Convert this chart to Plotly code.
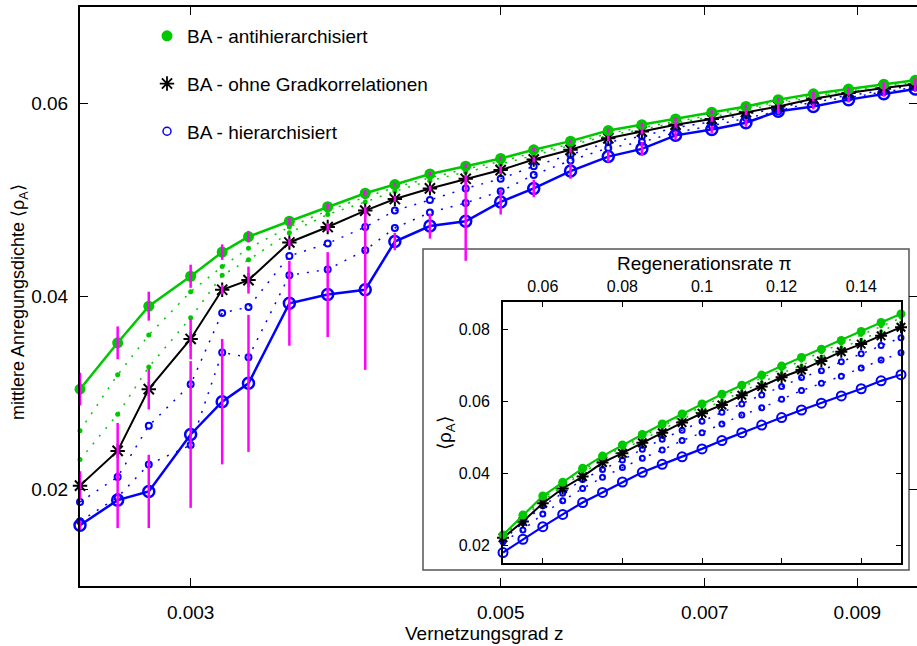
import plotly.graph_objects as go

# ---------------- main plot data ----------------
z = [0.0025, 0.00266, 0.0028, 0.003, 0.00316, 0.0033, 0.00353, 0.00376, 0.0040, 0.0042,
     0.00445, 0.00472, 0.0050, 0.00528, 0.00561, 0.00597, 0.00631, 0.00667, 0.00708, 0.00749,
     0.0079, 0.00837, 0.00887, 0.0094, 0.0099]

anti = [0.0304, 0.0352, 0.0390, 0.0421, 0.0446, 0.0462, 0.0478, 0.0493, 0.0507, 0.0516,
        0.0527, 0.0535, 0.0543, 0.0552, 0.0561, 0.0572, 0.0578, 0.0584, 0.0591, 0.0597,
        0.0604, 0.0610, 0.0615, 0.0620, 0.0624]
anti_err = [0.0017, 0.0017, 0.0015, 0.0012, 0.0008, 0.0006, 0.0004, 0.0003, 0.0003, 0.0002,
            0.0002, 0.0002, 0.0002, 0.0002, 0.0002, 0.0002, 0.0002, 0.0002, 0.0002, 0.0002,
            0.0002, 0.0002, 0.0002, 0.0002, 0.0002]

anti_mid1 = [0.0261, 0.0319, 0.0360, 0.0405, 0.0431, 0.0450, 0.0472, 0.0489, 0.0503, 0.0513,
             0.0523, 0.0532, 0.0540, 0.0549, 0.0558, 0.0569, 0.0575, 0.0581, 0.0588, 0.0595,
             0.0602, 0.0608, 0.0613, 0.0618, 0.0622]
anti_mid2 = [0.0231, 0.0278, 0.0327, 0.0378, 0.0422, 0.0438, 0.0466, 0.0485, 0.0498, 0.0509,
             0.0520, 0.0529, 0.0537, 0.0546, 0.0556, 0.0567, 0.0573, 0.0580, 0.0586, 0.0593,
             0.0600, 0.0607, 0.0612, 0.0617, 0.0621]

neutral = [0.0204, 0.0240, 0.0304, 0.0356, 0.0407, 0.0417, 0.0456, 0.0472, 0.0489, 0.0501,
           0.0512, 0.0522, 0.0531, 0.0542, 0.0552, 0.0564, 0.0571, 0.0578, 0.0584, 0.0591,
           0.0597, 0.0605, 0.0611, 0.0616, 0.0620]
neutral_err = [0.0015, 0.0029, 0.0021, 0.0021, 0.0005, 0.0014, 0.0004, 0.0004, 0.0004, 0.0003,
               0.0003, 0.0004, 0.0004, 0.0003, 0.0003, 0.0003, 0.0003, 0.0003, 0.0003, 0.0003,
               0.0003, 0.0003, 0.0003, 0.0003, 0.0003]

hier_mid1 = [0.0187, 0.0213, 0.0266, 0.0309, 0.0383, 0.0389, 0.0442, 0.0455, 0.0472, 0.0489,
             0.0500, 0.0512, 0.0522, 0.0535, 0.0547, 0.0560, 0.0566, 0.0575, 0.0581, 0.0589,
             0.0595, 0.0604, 0.0608, 0.0614, 0.0619]
hier_mid2 = [0.0167, 0.0192, 0.0226, 0.0246, 0.0342, 0.0337, 0.0422, 0.0428, 0.0448, 0.0471,
             0.0487, 0.0497, 0.0509, 0.0526, 0.0541, 0.0554, 0.0560, 0.0570, 0.0577, 0.0585,
             0.0592, 0.0602, 0.0606, 0.0612, 0.0617]

hier = [0.0163, 0.0189, 0.0198, 0.0257, 0.0291, 0.0310, 0.0393, 0.0402, 0.0407, 0.0457,
        0.0473, 0.0478, 0.0498, 0.0512, 0.0530, 0.0545, 0.0553, 0.0567, 0.0573, 0.0580,
        0.0592, 0.0597, 0.0604, 0.0610, 0.0615]
hier_err = [0.0005, 0.0029, 0.0038, 0.0076, 0.0065, 0.0071, 0.0044, 0.0044, 0.0083, 0.0009,
            0.0013, 0.0041, 0.0013, 0.0009, 0.0008, 0.0006, 0.0007, 0.0005, 0.0004, 0.0004,
            0.0003, 0.0003, 0.0003, 0.0003, 0.0003]

# ---------------- inset data ----------------
pi_rate = [0.05, 0.055, 0.06, 0.065, 0.07, 0.075, 0.08, 0.085, 0.09, 0.095, 0.10,
           0.105, 0.11, 0.115, 0.12, 0.125, 0.13, 0.135, 0.14, 0.145, 0.15]
in_anti = [0.0228, 0.0283, 0.0336, 0.0374, 0.0413, 0.0447, 0.0478, 0.0507, 0.0536, 0.0564, 0.0592,
           0.0619, 0.0644, 0.0672, 0.0697, 0.0721, 0.0744, 0.0768, 0.0793, 0.0818, 0.0842]
in_anti_mid1 = [0.0226, 0.0279, 0.0330, 0.0369, 0.0407, 0.0442, 0.0472, 0.0501, 0.0530, 0.0558, 0.0585,
                0.0611, 0.0637, 0.0664, 0.0688, 0.0712, 0.0735, 0.0759, 0.0783, 0.0807, 0.0831]
in_anti_mid2 = [0.0223, 0.0272, 0.0323, 0.0363, 0.0399, 0.0436, 0.0464, 0.0493, 0.0521, 0.0549, 0.0575,
                0.0600, 0.0626, 0.0652, 0.0677, 0.0699, 0.0723, 0.0748, 0.0770, 0.0794, 0.0818]
in_neutral = [0.0220, 0.0265, 0.0316, 0.0357, 0.0390, 0.0429, 0.0455, 0.0484, 0.0512, 0.0540, 0.0566,
              0.0589, 0.0616, 0.0640, 0.0666, 0.0686, 0.0711, 0.0737, 0.0758, 0.0781, 0.0805]
in_hier_mid1 = [0.0214, 0.0262, 0.0309, 0.0344, 0.0382, 0.0410, 0.0436, 0.0466, 0.0494, 0.0519, 0.0544,
                0.0569, 0.0592, 0.0617, 0.0640, 0.0665, 0.0684, 0.0709, 0.0731, 0.0754, 0.0776]
in_hier_mid2 = [0.0209, 0.0242, 0.0286, 0.0323, 0.0357, 0.0388, 0.0415, 0.0441, 0.0464, 0.0490, 0.0512,
                0.0536, 0.0561, 0.0581, 0.0605, 0.0629, 0.0649, 0.0669, 0.0692, 0.0714, 0.0734]
in_hier = [0.0179, 0.0216, 0.0251, 0.0285, 0.0318, 0.0346, 0.0375, 0.0402, 0.0424, 0.0445, 0.0467,
           0.0490, 0.0512, 0.0533, 0.0554, 0.0575, 0.0594, 0.0614, 0.0634, 0.0656, 0.0673]

main_xticks = [0.003, 0.005, 0.007, 0.009]
main_xticktext = ["0.003", "0.005", "0.007", "0.009"]
main_yticks = [0.02, 0.04, 0.06]
main_yticktext = ["0.02", "0.04", "0.06"]
in_xticks = [0.06, 0.08, 0.10, 0.12, 0.14]
in_xticktext = ["0.06", "0.08", "0.1", "0.12", "0.14"]
in_yticks = [0.02, 0.04, 0.06, 0.08]
in_yticktext = ["0.02", "0.04", "0.06", "0.08"]

GREEN = "#00c800"
BLUE = "#0000ff"
MAG = "#ff00ff"
FONT = "Liberation Sans, Arial, sans-serif"
DOTS = "2px,8px"

fig = go.Figure()


def add(x, y, xa, ya, color, symbol, size, lw, mlw=None, dash="solid"):
    marker = dict(symbol=symbol, size=size, color=color)
    if mlw is not None:
        marker["line"] = dict(width=mlw, color=color)
    fig.add_trace(go.Scatter(x=x, y=y, xaxis=xa, yaxis=ya, mode="lines+markers",
                             line=dict(color=color, width=lw, dash=dash),
                             marker=marker, showlegend=False, cliponaxis=False,
                             hoverinfo="skip"))


# main plot
add(z, anti_mid1, "x", "y", GREEN, "circle", 5, 1.5, dash=DOTS)
add(z, anti_mid2, "x", "y", GREEN, "circle", 5, 1.5, dash=DOTS)
add(z, hier_mid1, "x", "y", BLUE, "circle-open", 6, 1.5, mlw=2, dash=DOTS)
add(z, hier_mid2, "x", "y", BLUE, "circle-open", 6, 1.5, mlw=2, dash=DOTS)
add(z, hier, "x", "y", BLUE, "circle-open", 11, 2.5, mlw=2.5)
add(z, neutral, "x", "y", "black", "asterisk-open", 12, 2, mlw=2)
add(z, anti, "x", "y", GREEN, "circle", 11, 2.5)

for vals, errs in [(anti, anti_err), (neutral, neutral_err), (hier, hier_err)]:
    fig.add_trace(go.Scatter(x=z, y=vals, mode="markers", xaxis="x", yaxis="y",
                             marker=dict(size=1, color="rgba(0,0,0,0)"),
                             error_y=dict(type="data", array=errs, color=MAG,
                                          thickness=2.5, width=0),
                             showlegend=False, cliponaxis=False, hoverinfo="skip"))

# inset
add(pi_rate, in_anti_mid1, "x2", "y2", GREEN, "circle", 4, 1.5, dash=DOTS)
add(pi_rate, in_anti_mid2, "x2", "y2", GREEN, "circle", 4, 1.5, dash=DOTS)
add(pi_rate, in_hier_mid1, "x2", "y2", BLUE, "circle-open", 5, 1.5, mlw=2, dash=DOTS)
add(pi_rate, in_hier_mid2, "x2", "y2", BLUE, "circle-open", 5, 1.5, mlw=2, dash=DOTS)
add(pi_rate, in_hier, "x2", "y2", BLUE, "circle-open", 9, 2.2, mlw=2)
add(pi_rate, in_neutral, "x2", "y2", "black", "asterisk-open", 10, 2, mlw=2)
add(pi_rate, in_anti, "x2", "y2", GREEN, "circle", 9, 2.2)

# legend entries
legend_items = [("BA - antihierarchisiert", GREEN, "circle", 11, None),
                ("BA - ohne Gradkorrelationen", "black", "asterisk-open", 12, 1.8),
                ("BA - hierarchisiert", BLUE, "circle-open", 8, 1.5)]
for i, (name, col, sym, sz, mlw) in enumerate(legend_items):
    mk = dict(symbol=sym, size=sz, color=col)
    if mlw:
        mk["line"] = dict(width=mlw, color=col)
    fig.add_trace(go.Scatter(x=[None], y=[None], mode="markers", name=name,
                             marker=mk, legendgroup="g%d" % i, showlegend=True))

W, H = 917, 646
L, R, T, B = 80, 0, 7, 60
PW, PH = W - L - R, H - T - B


def px(xpix):
    return (xpix - L) / PW


def py(ypix):
    return 1 - (ypix - T) / PH


axis_common = dict(showgrid=False, zeroline=False, showline=True, linecolor="black",
                   ticks="inside", tickcolor="black", mirror="ticks")

fig.update_layout(
    width=W, height=H,
    margin=dict(l=L, r=R, t=T, b=B),
    paper_bgcolor="white", plot_bgcolor="white",
    font=dict(family=FONT, size=19, color="black"),
    xaxis=dict(type="log", range=[-2.60206, -2.0031], tickvals=main_xticks,
               ticktext=main_xticktext, ticklen=8, linewidth=2, automargin=False,
               ticklabelstandoff=8, tickfont=dict(size=19), **axis_common),
    yaxis=dict(range=[0.01, 0.07], tickvals=main_yticks, ticktext=main_yticktext,
               ticklen=8, linewidth=2, automargin=False, ticklabelstandoff=6,
               tickfont=dict(size=19), **axis_common),
    xaxis2=dict(domain=[px(503), px(901)], anchor="y2", range=[0.05, 0.15], side="top",
                tickvals=in_xticks, ticktext=in_xticktext, ticklen=5, linewidth=2,
                automargin=False, ticklabelstandoff=2, tickfont=dict(size=16), **axis_common),
    yaxis2=dict(domain=[py(563), py(302)], anchor="x2", range=[0.015, 0.0875],
                tickvals=in_yticks, ticktext=in_yticktext, ticklen=5, linewidth=2,
                automargin=False, ticklabelstandoff=8, tickfont=dict(size=16), **axis_common),
    legend=dict(x=px(147), y=py(17), xanchor="left", yanchor="top",
                bgcolor="rgba(0,0,0,0)", font=dict(size=19), tracegroupgap=20,
                itemsizing="trace"),
    shapes=[dict(type="rect", xref="paper", yref="paper",
                 x0=px(423), x1=px(909), y0=py(570), y1=py(249),
                 fillcolor="white", line=dict(color="#555555", width=1.5), layer="below")],
    annotations=[
        dict(text="Vernetzungsgrad z", xref="paper", yref="paper", x=px(484), y=py(633),
             showarrow=False, font=dict(size=19), xanchor="center", yanchor="middle"),
        dict(text="mittlere Anregungsdichte ⟨ρ<sub>A</sub>⟩", xref="paper", yref="paper",
             x=px(19), y=py(302), textangle=-90, showarrow=False, font=dict(size=18),
             xanchor="center", yanchor="middle"),
        dict(text="Regenerationsrate π", xref="paper", yref="paper", x=px(704), y=py(264),
             showarrow=False, font=dict(size=19), xanchor="center", yanchor="middle"),
        dict(text="⟨ρ<sub>A</sub>⟩", xref="paper", yref="paper", x=px(446), y=py(433),
             textangle=-90, showarrow=False, font=dict(size=19),
             xanchor="center", yanchor="middle"),
    ],
)

fig.write_html("out.html", config={"displayModeBar": False},
               post_script="document.body.style.margin='0';document.body.style.overflow='hidden';")
